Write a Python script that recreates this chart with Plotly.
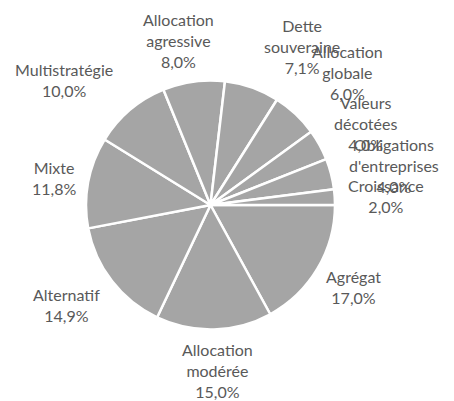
import math
import plotly.graph_objects as go

categories = ["Agrégat", "Allocation modérée", "Alternatif", "Mixte", "Multistratégie",
              "Allocation agressive", "Dette souveraine", "Allocation globale",
              "Valeurs décotées", "Obligations d'entreprises", "Croissance"]
values = [17.0, 15.0, 14.9, 11.8, 10.0, 8.0, 7.1, 6.0, 4.0, 4.0, 2.0]

# page body has an 8px margin; work in screen pixels and convert
OFF = 8
W, H = 454 - OFF, 401 - OFF
CX, CY, R = 210.5 - OFF, 205.0 - OFF, 124.5
GAP = 15
FONT = "Lato"
FS = 16
TXT = "#595959"
LINE_H = 22
CHAR_W = 7.1

fig = go.Figure(go.Pie(
    labels=categories, values=values, sort=False, direction="clockwise", rotation=90,
    marker=dict(colors=["#A5A5A5"] * len(values), line=dict(color="white", width=2.5)),
    textinfo="none", hoverinfo="label+percent", showlegend=False,
    domain=dict(x=[(CX - R) / W, (CX + R) / W], y=[1 - (CY + R) / H, 1 - (CY - R) / H]),
))

total = sum(values)
boxes = []
cum = 0.0
for name, v in zip(categories, values):
    th = (cum + v / 2) / total * 2 * math.pi
    cum += v
    dx, dy = math.cos(th), math.sin(th)
    gap = GAP - 7 * dy * dy
    ax, ay = CX + dx * (R + gap), CY + dy * (R + gap)
    if abs(dx) > 0.3:
        ax += 12 * max(0.0, -dy) * math.copysign(1, dx)
    lines = name.split(" ") + [f"{v:.1f}".replace(".", ",") + "%"]
    w = max(len(s) for s in lines) * CHAR_W
    h = len(lines) * LINE_H
    sx = max(-1, min(1, 3 * dx))
    sy = max(-1, min(1, 2 * dy * abs(dy)))
    boxes.append(dict(lines=lines, dx=dx, dy=dy, cx=ax + sx * w / 2, cy=ay + sy * h / 2, h=h))

# partial overlap push for near-horizontal labels on the right side
prev = None
for b in reversed(boxes):
    if b["dx"] > 0.9:
        if prev is not None:
            lim = prev["cy"] - 0.55 * (prev["h"] + b["h"]) / 2
            if b["cy"] > lim:
                b["cy"] = lim
        prev = b

for b in boxes:
    fig.add_annotation(
        x=b["cx"] / W, y=1 - b["cy"] / H, xref="paper", yref="paper",
        text="<br>".join(b["lines"]), showarrow=False, align="center",
        xanchor="center", yanchor="middle",
        font=dict(family=FONT, size=FS, color=TXT),
    )

fig.update_layout(
    width=W, height=H, autosize=False,
    margin=dict(l=0, r=0, t=0, b=0),
    paper_bgcolor="white", plot_bgcolor="white",
)
fig.write_html("out.html")
